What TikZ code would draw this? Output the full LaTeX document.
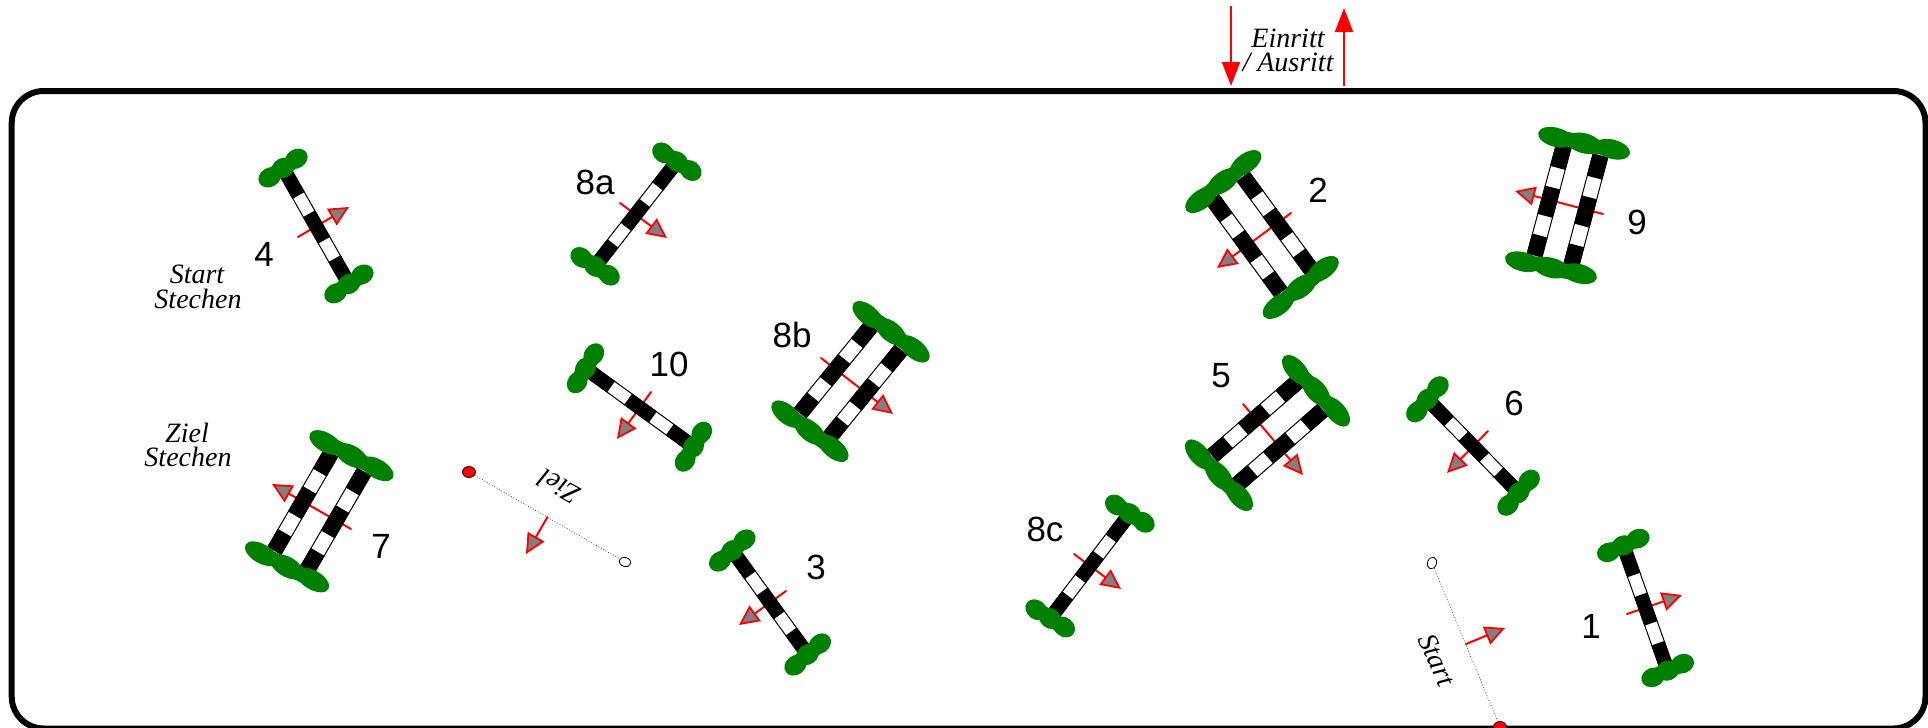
\documentclass[tikz,border=0pt]{standalone}
\usepackage{fontspec}
\setmainfont{Liberation Sans}
\newfontfamily\handfont{Liberation Serif}
\usetikzlibrary{arrows.meta,shapes.geometric}
\definecolor{bush}{RGB}{0,128,0}
\tikzset{
  x=0.5pt,y=-0.5pt,
  number/.style={font=\fontsize{17.5}{17.5}\selectfont,inner sep=0pt},
  hand/.style={font=\handfont\itshape\fontsize{14}{14}\selectfont,inner sep=0pt},
  dir/.style={draw=red,line width=1pt,line cap=round,-{Triangle[length=10pt,width=9.5pt,fill=gray,color=red,line width=0.9pt]}},
  bigarrow/.style={draw=red,line width=1pt,-{Triangle[length=12pt,width=9pt,fill=red,color=red]}},
  lump/.style={fill=bush,draw=none},
  tape/.style={draw=black!70,line width=0.4pt,densely dotted},
  endred/.style={ellipse,draw=black,line width=0.4pt,fill=red,inner sep=0pt,minimum width=6.5pt,minimum height=5.5pt},
  endwhite/.style={ellipse,draw=black,line width=0.4pt,fill=white,inner sep=0pt,minimum width=6pt,minimum height=4.5pt}
}
% one rail at local offset #1
\newcommand{\rail}[1]{%
  \draw[black,line width=0.5pt,fill=white] ({-\hl},{#1-\rw+0.4}) rectangle ({\hl},{#1+\rw-0.4});
  \fill[black] ({-\hl},{#1-\rw}) rectangle ({-0.6*\hl},{#1+\rw});
  \fill[black] ({-0.24*\hl},{#1-\rw}) rectangle ({0.28*\hl},{#1+\rw});
  \fill[black] ({0.64*\hl},{#1-\rw}) rectangle ({\hl},{#1+\rw});
}
% green hedge at local position #1; total length \gl
\newcommand{\hedge}[2]{%
  \pgfmathsetmacro\ga{\gl/6+2.5}
  \pgfmathsetmacro\gp{\gl/2-\ga}
  \fill[lump] ({#1},0) ellipse [x radius=7.5,y radius={\gl/2-2}];
  \fill[lump] ({#1+#2*1.5},{-\gp}) ellipse [x radius=9.6,y radius=\ga];
  \fill[lump] ({#1},0) ellipse [x radius=10,y radius=\ga];
  \fill[lump] ({#1-#2*1.5},{\gp}) ellipse [x radius=9.6,y radius=\ga];
}
% #1,#2 = rail start, #3,#4 = rail end, #5 = distance between rails (0: a single rail)
\newcommand{\jump}[5]{%
  \pgfmathsetmacro\cx{(#1+#3)/2}
  \pgfmathsetmacro\cy{(#2+#4)/2}
  \pgfmathsetmacro\ang{atan2(-(#4-#2),#3-#1)}
  \pgfmathsetmacro\hl{veclen(#3-#1,#4-#2)/2}
  \pgfmathsetmacro\gl{#5+56}
  \begin{scope}[shift={(\cx,\cy)},rotate=\ang,x=0.5pt,y=0.5pt]
    \ifdim #5pt=0pt
      \def\rw{7}
      \rail{0}
    \else
      \def\rw{8}
      \pgfmathsetmacro\rr{#5/2}
      \rail{-\rr}
      \rail{\rr}
    \fi
    \hedge{-\hl-8}{1}
    \hedge{\hl+8}{1}
  \end{scope}
}
\begin{document}
\begin{tikzpicture}
\useasboundingbox (0,0) rectangle (1928,728);
\begin{scope}
\clip (0,0) rectangle (1928,728);
% arena
\draw[black,line width=3pt,rounded corners=16pt] (11.7,91) rectangle (1925.5,728.5);
% entrance
\coordinate (inA) at (1231,6);
\coordinate (inB) at (1231,86);
\coordinate (outA) at (1344,86);
\coordinate (outB) at (1344,8);
\draw[bigarrow] (inA) -- (inB);
\draw[bigarrow] (outA) -- (outB);
\node[hand] (t1) at (1288,38) {Einritt};
\node[hand] (t2) at (1288,62) {/ Ausritt};
% take-off directions (under the rails)
\draw[dir] (298,237) -- (349,207);
\draw[dir] (620,203) -- (667,238);
\draw[dir] (651,392) -- (617,439);
\draw[dir] (821,358) -- (893,414);
\draw[dir] (786,591) -- (739,625);
\draw[dir] (351,529) -- (272,484);
\draw[dir] (1627,614) -- (1682,595);
\draw[dir] (1074,554) -- (1121,589);
\draw[dir] (1243,404) -- (1303,475);
\draw[dir] (1488,431) -- (1447,473);
\draw[dir] (1291,213) -- (1217,268);
\draw[dir] (1603,214) -- (1515,191);
% jumps
\jump{287}{175}{345}{277}{0}
\jump{672}{168}{600}{260}{0}
\jump{592}{373}{687}{442}{0}
\jump{886}{338}{815}{425}{38}
\jump{737}{557}{803}{648}{0}
\jump{347.5}{462.5}{291}{560}{38}
\jump{1626}{553}{1665}{663}{0}
\jump{1125}{520}{1055}{612}{0}
\jump{1310}{396}{1225}{470}{38}
\jump{1433}{405}{1513}{487}{0}
\jump{1228}{188}{1296}{281}{38}
\jump{1582}{151}{1553}{260}{38}
% numbers
\node[number] (n1) at (1591,626) {1};
\node[number] (n2) at (1318,190) {2};
\node[number] (n3) at (816,567) {3};
\node[number] (n4) at (264,254) {4};
\node[number] (n5) at (1221,376) {5};
\node[number] (n6) at (1514,403) {6};
\node[number] (n7) at (381,546) {7};
\node[number] (n8a) at (595,182) {8a};
\node[number] (n8b) at (792,335) {8b};
\node[number] (n8c) at (1045,529) {8c};
\node[number] (n9) at (1637,222) {9};
\node[number] (n10) at (669,364) {10};
% handwritten notes
\node[hand] (s1) at (197,274) {Start};
\node[hand] (s2) at (198,299) {Stechen};
\node[hand] (z1) at (187,433) {Ziel};
\node[hand] (z2) at (188,457) {Stechen};
% finish line
\node[endred] (fr) at (469,472) {};
\node[endwhite,rotate=-15] (fw) at (625,562) {};
\draw[tape] (fr) -- (fw);
\draw[dir] (547.5,517) -- (526,554);
\node[hand,rotate=151] (fl) at (559,487) {Ziel};
% start line
\node[endwhite,rotate=70] (sw) at (1432,563) {};
\node[endred] (sr) at (1500,727) {};
\draw[tape] (sw) -- (sr);
\draw[dir] (1466,644) -- (1505,628);
\node[hand,rotate=-65] (sl) at (1437,660) {Start};
\end{scope}
\end{tikzpicture}
\end{document}
